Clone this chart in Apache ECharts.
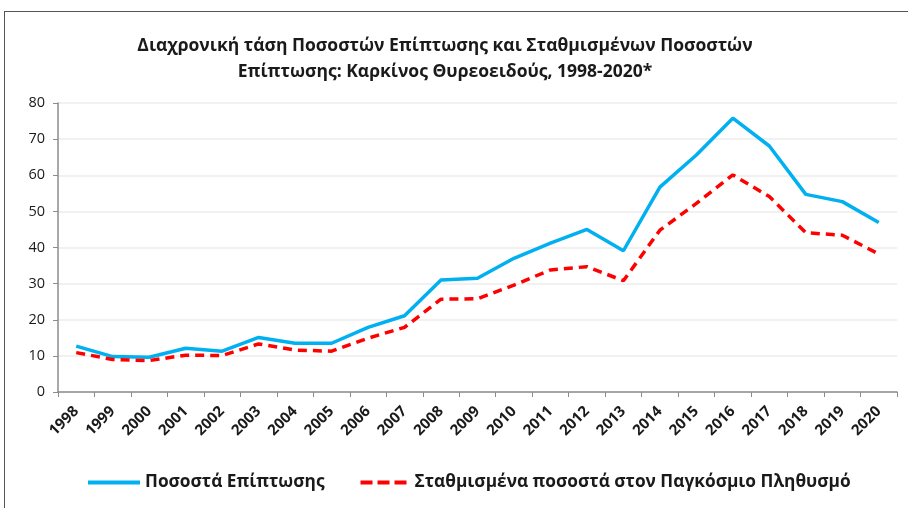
<!DOCTYPE html>
<html>
<head>
<meta charset="utf-8">
<script src="https://cdn.jsdelivr.net/npm/echarts@6/dist/echarts.min.js"></script>
<style>
  html, body { margin: 0; padding: 0; background: #fff; }
  #frame { position: absolute; left: 4px; top: 11px; width: 910px; height: 510px; border-left: 1.5px solid #555; border-top: 1.5px solid #555; }
  #chart { position: absolute; left: 0; top: 0; width: 908px; height: 508px; }
</style>
</head>
<body>
<div id="frame"></div>
<div id="chart"></div>
<script>
const years = ['1998','1999','2000','2001','2002','2003','2004','2005','2006','2007','2008','2009','2010','2011','2012','2013','2014','2015','2016','2017','2018','2019','2020']
const incidence = [12.7, 9.8, 9.6, 12.1, 11.3, 15.1, 13.5, 13.5, 17.9, 21.1, 31.0, 31.5, 37.0, 41.2, 45.0, 39.1, 56.7, 65.6, 75.8, 68.1, 54.7, 52.7, 46.9]
const standardized = [10.9, 9.0, 8.7, 10.2, 10.1, 13.3, 11.6, 11.3, 14.9, 17.9, 25.7, 25.8, 29.6, 33.8, 34.7, 30.8, 44.8, 52.2, 60.1, 54.1, 44.1, 43.4, 38.2]
const seriesNames = ['Ποσοστά Επίπτωσης', 'Σταθμισμένα ποσοστά στον Παγκόσμιο Πληθυσμό']
const titleText = 'Διαχρονική τάση Ποσοστών Επίπτωσης και Σταθμισμένων Ποσοστών\nΕπίπτωσης: Καρκίνος Θυρεοειδούς, 1998-2020*'

const font = '"Open Sans", sans-serif'

const chart = echarts.init(document.getElementById('chart'))
chart.setOption({
  animation: false,
  textStyle: { fontFamily: font },
  title: {
    text: titleText,
    left: 440,
    top: 28,
    textAlign: 'center',
    textStyle: { fontSize: 17.5, fontWeight: 'bold', color: '#1a1a1a', lineHeight: 26, fontFamily: font }
  },
  legend: {
    top: 469,
    left: 83,
    itemWidth: 52,
    itemHeight: 4,
    itemGap: 36,
    textStyle: { fontSize: 17.3, fontWeight: 'bold', color: '#1a1a1a', fontFamily: font },
    data: [
      { name: seriesNames[0], icon: 'rect' },
      { name: seriesNames[1], icon: 'path://M0,0h12v4h-12z M17,0h12v4h-12z M34,0h12v4h-12z' }
    ]
  },
  grid: { left: 58, right: 11, top: 103, bottom: 116 },
  xAxis: {
    type: 'category',
    data: years,
    boundaryGap: true,
    axisLine: { lineStyle: { color: '#8c8c8c', width: 1.5 } },
    axisTick: { show: true, length: 5, lineStyle: { color: '#8c8c8c' } },
    axisLabel: { rotate: 45, interval: 0, fontSize: 15, fontWeight: 'bold', color: '#1a1a1a', margin: 17 },
    splitLine: { show: false }
  },
  yAxis: {
    type: 'value',
    min: 0,
    max: 80,
    interval: 10,
    axisLine: { show: true, lineStyle: { color: '#8c8c8c', width: 1.5 } },
    axisTick: { show: true, length: 5, lineStyle: { color: '#8c8c8c' } },
    axisLabel: { fontSize: 14.5, color: '#1a1a1a', margin: 13 },
    splitLine: { lineStyle: { color: '#ececec', width: 1.5 } }
  },
  series: [
    {
      name: seriesNames[0],
      type: 'line',
      data: incidence,
      symbol: 'none',
      lineStyle: { color: '#00b0f0', width: 3.5 },
      itemStyle: { color: '#00b0f0' }
    },
    {
      name: seriesNames[1],
      type: 'line',
      data: standardized,
      symbol: 'none',
      lineStyle: { color: '#ff0000', width: 3.5, type: [9, 6] },
      itemStyle: { color: '#ff0000' }
    }
  ]
})
window.addEventListener('resize', () => { chart.resize() })
</script>
</body>
</html>
